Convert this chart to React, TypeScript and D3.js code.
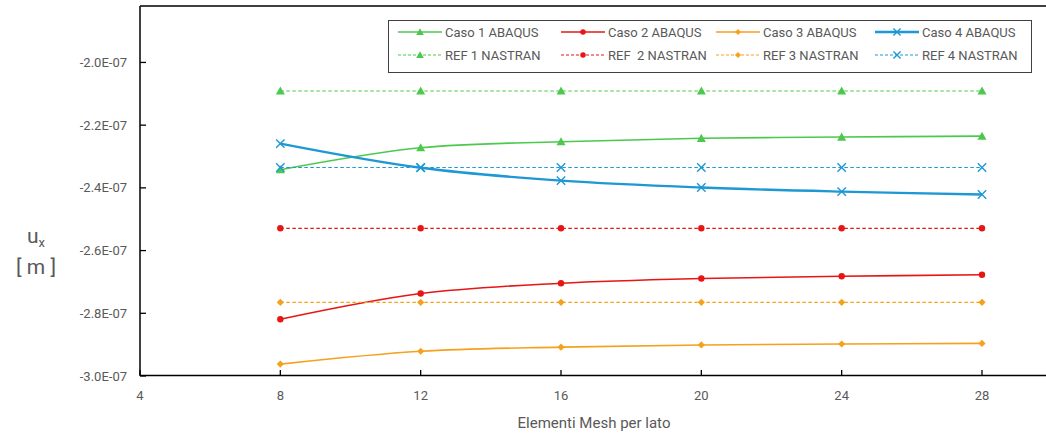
import * as d3 from "d3";

const meshSizes = [8, 12, 16, 20, 24, 28];

const caso1 = [-2.342e-7, -2.272e-7, -2.253e-7, -2.242e-7, -2.238e-7, -2.235e-7];
const caso2 = [-2.819e-7, -2.737e-7, -2.704e-7, -2.689e-7, -2.682e-7, -2.677e-7];
const caso3 = [-2.962e-7, -2.921e-7, -2.908e-7, -2.901e-7, -2.898e-7, -2.896e-7];
const caso4 = [-2.259e-7, -2.336e-7, -2.377e-7, -2.399e-7, -2.412e-7, -2.421e-7];

const ref1 = [-2.091e-7, -2.091e-7, -2.091e-7, -2.091e-7, -2.091e-7, -2.091e-7];
const ref2 = [-2.529e-7, -2.529e-7, -2.529e-7, -2.529e-7, -2.529e-7, -2.529e-7];
const ref3 = [-2.765e-7, -2.765e-7, -2.765e-7, -2.765e-7, -2.765e-7, -2.765e-7];
const ref4 = [-2.335e-7, -2.335e-7, -2.335e-7, -2.335e-7, -2.335e-7, -2.335e-7];

const xTicks = [4, 8, 12, 16, 20, 24, 28];
const yTicks = [-3.0e-7, -2.8e-7, -2.6e-7, -2.4e-7, -2.2e-7, -2.0e-7];

type Marker = "triangle" | "circle" | "diamond" | "cross";

interface Series {
  name: string;
  values: number[];
  color: string;
  marker: Marker;
  dashed: boolean;
  width: number;
}

const GREEN = "#4cc94c";
const RED = "#e81515";
const ORANGE = "#f5a11c";
const BLUE = "#1e98d4";

const series: Series[] = [
  { name: "Caso 1 ABAQUS", values: caso1, color: GREEN, marker: "triangle", dashed: false, width: 1.6 },
  { name: "Caso 2 ABAQUS", values: caso2, color: RED, marker: "circle", dashed: false, width: 1.6 },
  { name: "Caso 3 ABAQUS", values: caso3, color: ORANGE, marker: "diamond", dashed: false, width: 1.6 },
  { name: "Caso 4 ABAQUS", values: caso4, color: BLUE, marker: "cross", dashed: false, width: 2.4 },
  { name: "REF 1 NASTRAN", values: ref1, color: GREEN, marker: "triangle", dashed: true, width: 1.2 },
  { name: "REF  2 NASTRAN", values: ref2, color: RED, marker: "circle", dashed: true, width: 1.2 },
  { name: "REF 3 NASTRAN", values: ref3, color: ORANGE, marker: "diamond", dashed: true, width: 1.2 },
  { name: "REF 4 NASTRAN", values: ref4, color: BLUE, marker: "cross", dashed: true, width: 1.2 },
];

const W = 1046;
const H = 437;
const FONT = "Roboto, 'Liberation Sans', sans-serif";
const GREY = "#595959";

const x = d3.scaleLinear().domain([4, 28]).range([140, 982]);
const y = d3.scaleLinear().domain([-3.0e-7, -1.82e-7]).range([376, 6]);

function MarkerShape({ type, cx, cy, color, small }: { type: Marker; cx: number; cy: number; color: string; small?: boolean }) {
  const k = small ? 0.85 : 1;
  if (type === "triangle") {
    const s = 4.5 * k;
    return <path d={`M${cx},${cy - s}L${cx + s},${cy + s * 0.8}L${cx - s},${cy + s * 0.8}Z`} fill={color} />;
  }
  if (type === "circle") return <circle cx={cx} cy={cy} r={3.2 * k} fill={color} />;
  if (type === "diamond") {
    const s = 3.6 * k;
    return <path d={`M${cx},${cy - s}L${cx + s},${cy}L${cx},${cy + s}L${cx - s},${cy}Z`} fill={color} />;
  }
  const s = 4.2 * k;
  return (
    <path
      d={`M${cx - s},${cy - s}L${cx + s},${cy + s}M${cx - s},${cy + s}L${cx + s},${cy - s}`}
      stroke={color}
      strokeWidth={1.4}
      fill="none"
    />
  );
}

export default function App() {
  const smooth = d3
    .line<number>()
    .x((_, i) => x(meshSizes[i]))
    .y((d) => y(d))
    .curve(d3.curveCatmullRom.alpha(0.5));
  const straight = d3
    .line<number>()
    .x((_, i) => x(meshSizes[i]))
    .y((d) => y(d));

  const legendCols = [398, 561, 716, 875];
  const legendRows = [32, 55];

  return (
    <svg
      width={W}
      height={H}
      style={{ position: "absolute", left: 0, top: 0, background: "#fff" }}
      fontFamily={FONT}
    >
      {/* frame */}
      <line x1={140} x2={W} y1={6} y2={6} stroke="#000" strokeWidth={1.5} />
      <line x1={140} x2={140} y1={6} y2={376} stroke="#000" strokeWidth={1.5} />
      <line x1={140} x2={W} y1={375.5} y2={375.5} stroke="#000" strokeWidth={1.5} />

      {/* y ticks */}
      {yTicks.map((t) => (
        <g key={t}>
          <line x1={140} x2={146} y1={y(t)} y2={y(t)} stroke="#000" strokeWidth={1.3} />
          <text x={127} y={y(t)} dy="0.35em" textAnchor="end" fontSize={13} fill={GREY}>
            {(t * 1e7).toFixed(1)}E-07
          </text>
        </g>
      ))}

      {/* x ticks */}
      {xTicks.map((t) => (
        <g key={t}>
          <line x1={x(t)} x2={x(t)} y1={375} y2={370} stroke="#000" strokeWidth={1.3} />
          <text x={x(t)} y={400} textAnchor="middle" fontSize={13} fill={GREY}>
            {t}
          </text>
        </g>
      ))}

      {/* axis titles */}
      <text x={594} y={428} textAnchor="middle" fontSize={15} fill={GREY}>
        Elementi Mesh per lato
      </text>
      <text x={36} y={243} textAnchor="middle" fontSize={21} fill={GREY}>
        u<tspan fontSize={13} dy={4}>x</tspan>
      </text>
      <text x={36} y={274} textAnchor="middle" fontSize={21} fill={GREY}>
        [ m ]
      </text>

      {/* series */}
      {series.map((s) => (
        <g key={s.name}>
          <path
            d={(s.dashed ? straight : smooth)(s.values) ?? ""}
            fill="none"
            stroke={s.color}
            strokeWidth={s.width}
            strokeDasharray={s.dashed ? "3.5,2.5" : undefined}
          />
          {s.values.map((v, i) => (
            <MarkerShape key={i} type={s.marker} cx={x(meshSizes[i])} cy={y(v)} color={s.color} />
          ))}
        </g>
      ))}

      {/* legend */}
      <rect x={388.5} y={20.5} width={643} height={52} fill="#fff" stroke="#404040" strokeWidth={1} />
      {series.map((s, i) => {
        const lx = legendCols[i % 4];
        const ly = legendRows[Math.floor(i / 4)];
        return (
          <g key={s.name}>
            <line
              x1={lx}
              x2={lx + 44}
              y1={ly}
              y2={ly}
              stroke={s.color}
              strokeWidth={s.dashed ? 1.2 : s.width}
              strokeDasharray={s.dashed ? "3,2" : undefined}
            />
            <MarkerShape type={s.marker} cx={lx + 22} cy={ly} color={s.color} small />
            <text x={lx + 47} y={ly} dy="0.35em" fontSize={13} fill={GREY} style={{ whiteSpace: "pre" }}>
              {s.name}
            </text>
          </g>
        );
      })}
    </svg>
  );
}
